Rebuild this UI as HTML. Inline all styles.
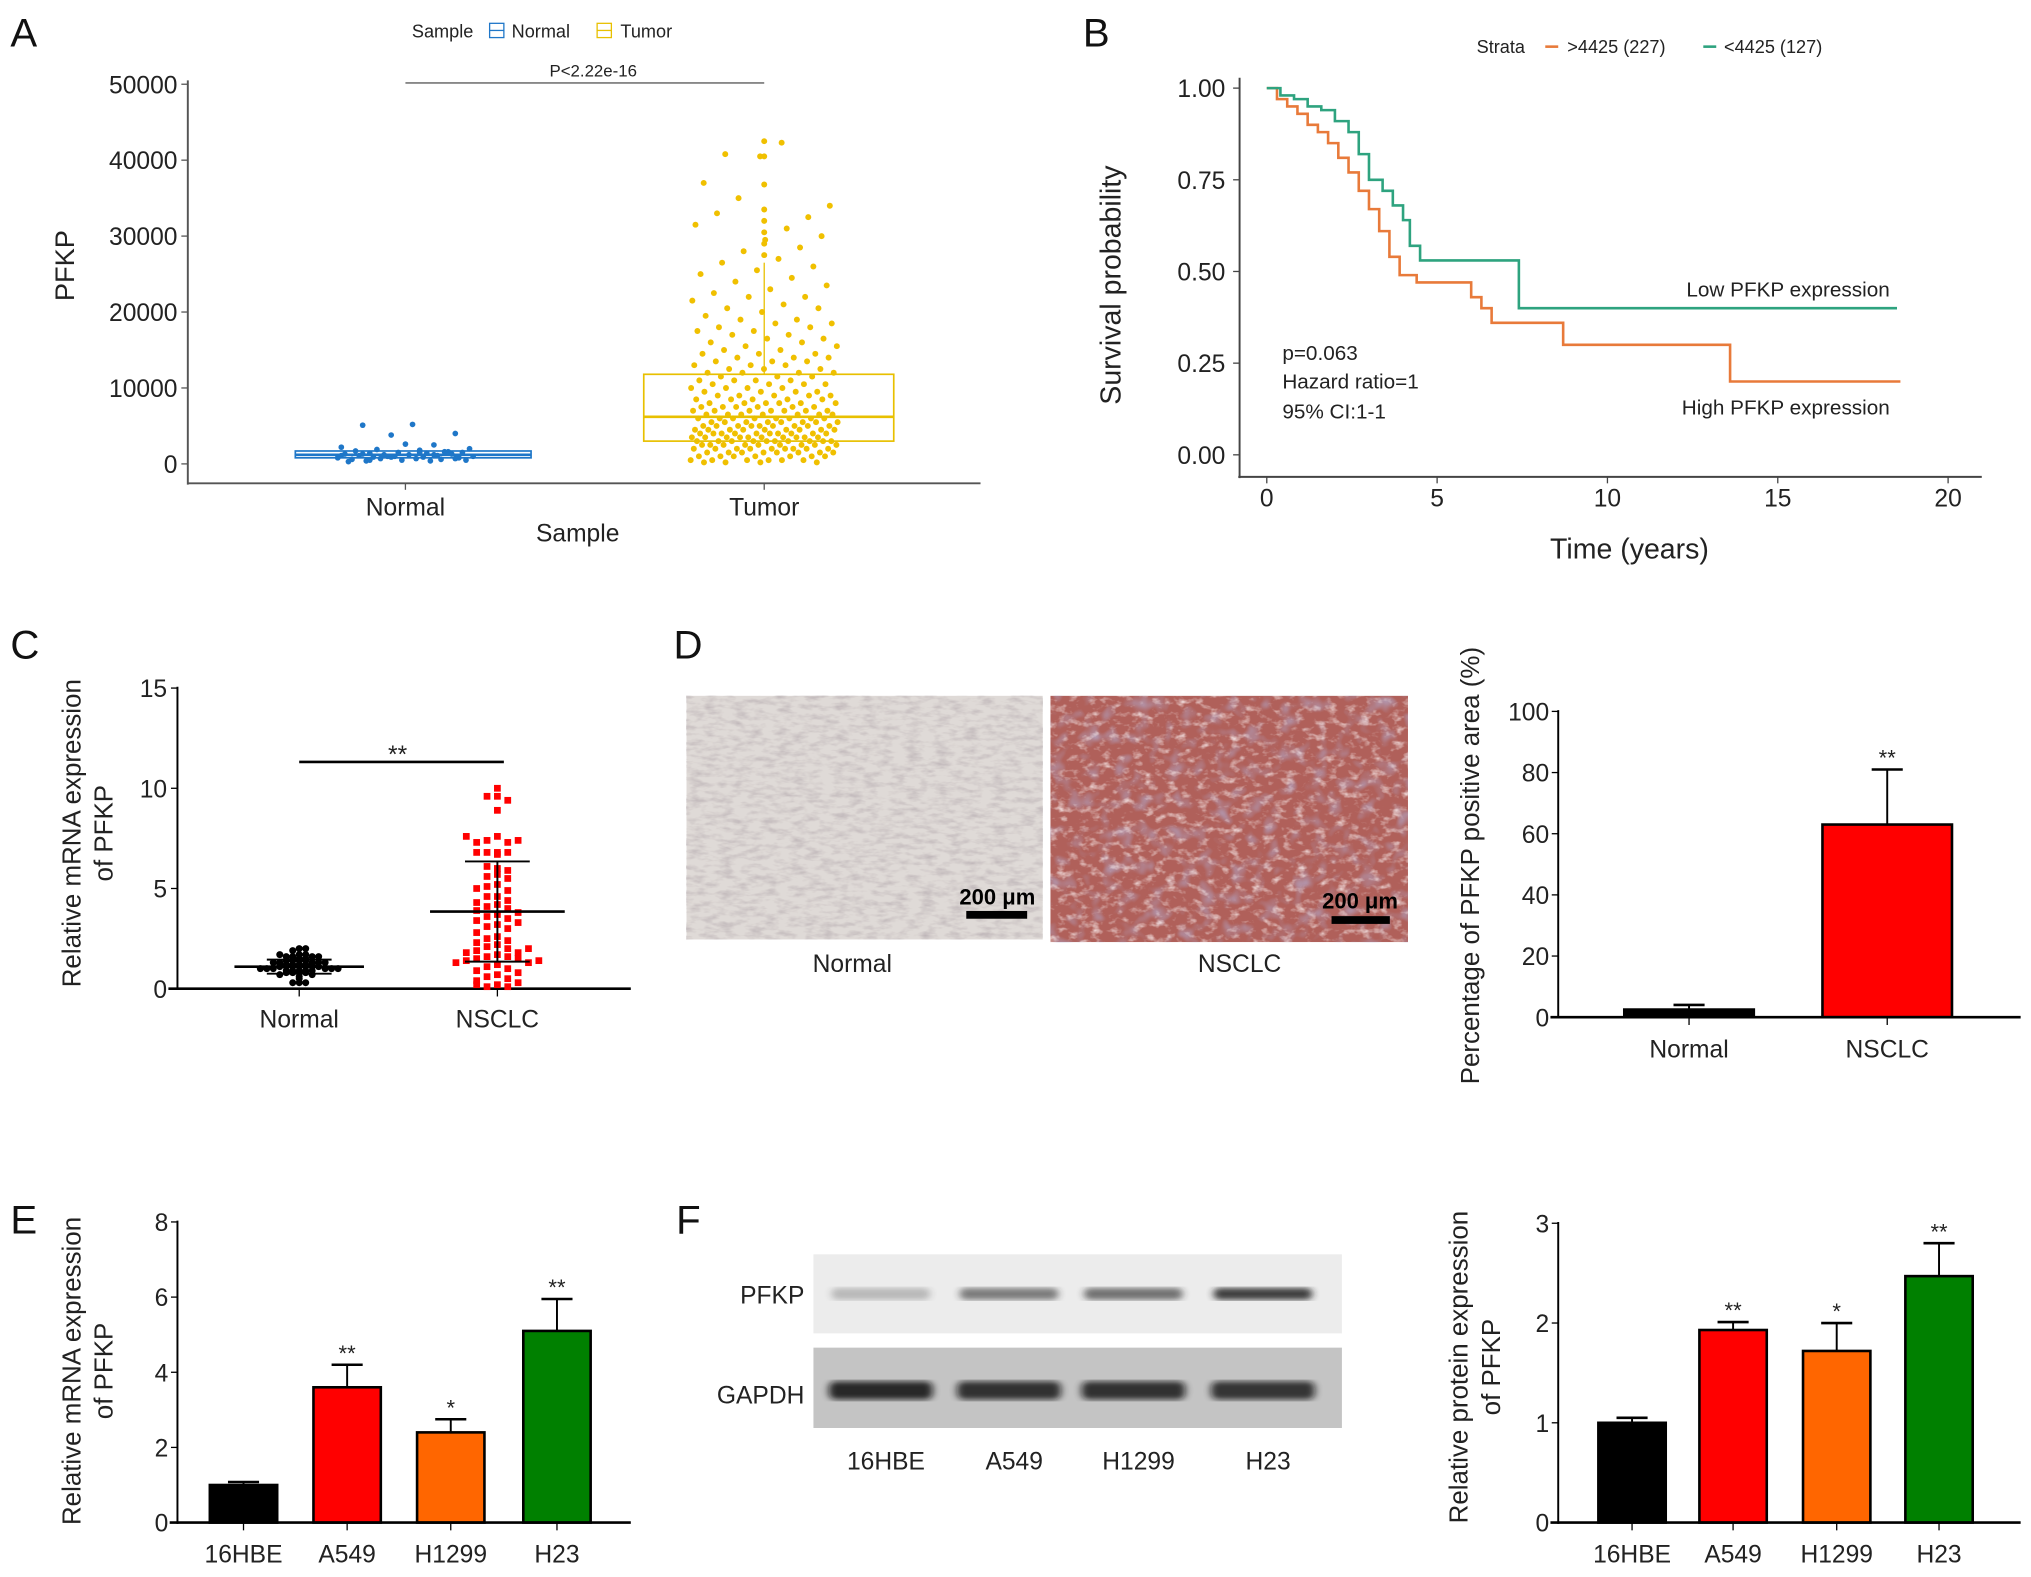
<!DOCTYPE html>
<html><head><meta charset="utf-8"><title>PFKP figure</title>
<style>
html,body{margin:0;padding:0;background:#fff;}
svg{display:block;font-family:"Liberation Sans",Arial,sans-serif;}
</style></head>
<body>
<svg id="fig" width="2031" height="1577" viewBox="0 0 1568 1217" preserveAspectRatio="none" xmlns="http://www.w3.org/2000/svg">
<defs>
<filter id="texN" x="0" y="0" width="100%" height="100%">
<feTurbulence type="fractalNoise" baseFrequency="0.09 0.25" numOctaves="3" seed="3" result="n"/>
<feColorMatrix in="n" type="matrix" values="0 0 0 0 0.55  0 0 0 0 0.5  0 0 0 0 0.52  1.8 0 0 0 -0.75"/>
</filter>
<filter id="texT" x="0" y="0" width="100%" height="100%">
<feTurbulence type="fractalNoise" baseFrequency="0.12 0.18" numOctaves="3" seed="7" result="n"/>
<feColorMatrix in="n" type="matrix" values="0 0 0 0 0.95  0 0 0 0 0.85  0 0 0 0 0.85  2.2 0 0 0 -1.15"/>
</filter>
<filter id="texB" x="0" y="0" width="100%" height="100%">
<feTurbulence type="fractalNoise" baseFrequency="0.08" numOctaves="2" seed="11" result="n"/>
<feColorMatrix in="n" type="matrix" values="0 0 0 0 0.45  0 0 0 0 0.45  0 0 0 0 0.7  1.6 0 0 0 -0.8"/>
</filter>
<filter id="blur1"><feGaussianBlur stdDeviation="3 2"/></filter>
</defs>
<g id="root"></g>
</svg>
<script>
// ---------- Panel A data ----------
const aCategories = ["Normal", "Tumor"];
const aYTicks = [0, 10000, 20000, 30000, 40000, 50000];
const aBoxNormal = [800, 1200, 1700];
const aBoxTumor = [3000, 6200, 11800];
const aWhiskerTumor = 26500;
const aNormalPts = [5200,5100,4000,3800,2500,2200,2000,1900,1800,1700,1600,1500,1500,1400,1400,1300,1300,1200,1200,1100,1100,1000,1000,900,900,800,800,700,700,600,600,500,500,400,400,300,1600,1000,2600,1300,1200,900,700,500,1500,1100];
const aTumorPts = [42500,42300,40800,40500,40500,37000,36800,35000,34000,33500,33000,32500,32000,31500,31000,30500,30000,29500,29000,28500,28000,27500,27000,26500,26000,25500,25000,24500,24000,23500,23000,22500,22000,22000,21500,21000,20500,20500,20000,19500,19000,19000,18500,18500,18000,18000,17500,17500,17000,17000,16500,16500,16000,16000,15500,15500,15000,15000,14500,14500,14500,14000,14000,14000,13500,13500,13500,13000,13000,13000,12500,12500,12500,12000,12000,12000,12000,11500,11500,11500,11000,11000,11000,11000,10500,10500,10500,10500,10000,10000,10000,10000,9500,9500,9500,9500,9000,9000,9000,9000,9000,8500,8500,8500,8500,8500,8000,8000,8000,8000,8000,8000,7500,7500,7500,7500,7500,7500,7000,7000,7000,7000,7000,7000,7000,6500,6500,6500,6500,6500,6500,6500,6000,6000,6000,6000,6000,6000,6000,6000,5500,5500,5500,5500,5500,5500,5500,5500,5000,5000,5000,5000,5000,5000,5000,5000,5000,4500,4500,4500,4500,4500,4500,4500,4500,4500,4000,4000,4000,4000,4000,4000,4000,4000,4000,4000,3500,3500,3500,3500,3500,3500,3500,3500,3500,3500,3000,3000,3000,3000,3000,3000,3000,3000,3000,3000,2500,2500,2500,2500,2500,2500,2500,2500,2500,2000,2000,2000,2000,2000,2000,2000,2000,2000,1500,1500,1500,1500,1500,1500,1500,1500,1000,1000,1000,1000,1000,1000,1000,500,500,500,500,500,500,200,200,200,200];

// ---------- Panel B data ----------
const bXTicks = [0, 5, 10, 15, 20];
const bYTicks = [0, 0.25, 0.5, 0.75, 1.0];
const bHighTimes = [0,0.3,0.6,0.9,1.2,1.5,1.8,2.1,2.4,2.7,3.0,3.3,3.6,3.9,4.4,6.0,6.3,6.6,8.7,13.6,18.6];
const bHighSurv  = [1.0,0.97,0.95,0.93,0.90,0.88,0.85,0.81,0.77,0.72,0.67,0.61,0.54,0.49,0.47,0.43,0.40,0.36,0.30,0.20,0.20];
const bLowTimes = [0,0.4,0.8,1.2,1.6,2.0,2.4,2.7,3.0,3.4,3.7,4.0,4.2,4.5,7.4,18.5];
const bLowSurv  = [1.0,0.98,0.97,0.95,0.94,0.91,0.88,0.82,0.75,0.72,0.68,0.64,0.57,0.53,0.40,0.40];

// ---------- Panel C data ----------
const cCategories = ["Normal", "NSCLC"];
const cYTicks = [0, 5, 10, 15];
const cNormalVals = [2.0,1.9,2.0,1.7,1.6,1.7,1.6,1.6,1.7,1.6,1.5,1.5,1.5,1.4,1.4,1.4,1.4,1.3,1.3,1.3,1.3,1.3,1.2,1.2,1.2,1.2,1.2,1.2,1.1,1.1,1.1,1.1,1.1,1.1,1.1,1.0,1.0,1.0,1.0,1.0,1.0,0.9,0.9,0.9,0.9,0.9,0.8,0.8,0.8,0.8,0.7,0.7,0.6,0.5,0.3,0.3,0.3];
const cNsclcVals = [10.0,9.6,9.6,9.4,8.9,7.6,7.4,7.3,7.3,7.4,7.6,6.8,6.8,6.7,6.8,6.8,6.0,6.1,5.9,5.7,5.6,5.5,5.2,5.1,4.9,4.6,4.6,4.4,4.2,4.1,4.0,3.9,3.8,3.7,3.6,3.5,3.4,3.2,3.1,3.0,2.8,2.6,2.5,2.4,2.3,2.2,2.1,2.0,1.9,1.8,1.7,1.6,1.6,1.5,1.5,1.4,1.3,1.2,1.1,1.0,0.9,0.8,0.7,0.6,0.5,0.4,0.3,0.2,0.1,0.1,0.2,1.3,1.4,1.8,2.0,3.3,4.3,5.0];
const cMeans = [1.1, 3.85];
const cSD = [0.35, 2.5];

// ---------- Panel D data ----------
const dCategories = ["Normal", "NSCLC"];
const dYTicks = [0, 20, 40, 60, 80, 100];
const dValues = [2.5, 63];
const dErrors = [1.5, 18];
const dStars = ["", "**"];

// ---------- Panel E data ----------
const eCategories = ["16HBE", "A549", "H1299", "H23"];
const eYTicks = [0, 2, 4, 6, 8];
const eValues = [1.0, 3.6, 2.4, 5.1];
const eErrors = [0.08, 0.6, 0.35, 0.85];
const eStars = ["", "**", "*", "**"];

// ---------- Panel F data ----------
const fCategories = ["16HBE", "A549", "H1299", "H23"];
const fYTicks = [0, 1, 2, 3];
const fValues = [1.0, 1.93, 1.72, 2.47];
const fErrors = [0.05, 0.08, 0.28, 0.33];
const fStars = ["", "**", "*", "**"];
const fPfkpBand = [0.25, 0.55, 0.6, 0.85];
const fGapdhBand = [0.85, 0.8, 0.8, 0.78];

const barColors = ["#000000", "#ff0000", "#ff6600", "#008000"];

const NS = "http://www.w3.org/2000/svg";
const root = document.getElementById("root");
function mk(tag, attrs, parent, text) {
  const e = document.createElementNS(NS, tag);
  for (const k in attrs) e.setAttribute(k, attrs[k]);
  if (text !== undefined) e.textContent = text;
  (parent || root).appendChild(e);
  return e;
}
function grp(name) {
  const g = mk("g", {});
  
  
  return g;
}
function lin(v0, v1, p0, p1) { return v => p0 + (v - v0) / (v1 - v0) * (p1 - p0); }
function txt(g, x, y, s, size, anchor, extra) {
  const a = Object.assign({x: x, y: y, "font-size": size, "text-anchor": anchor || "middle", fill: "#222"}, extra || {});
  return mk("text", a, g, s);
}

// panel letters
[["A",8,36],["B",836,36],["C",8,508],["D",520,508],["E",8,952],["F",522,952]].forEach(p => {
  const t = txt(root, p[1], p[2], p[0], 31, "start", {fill:"#111"});
  
  
});

// ================= Panel A =================
(function(){
  const g = grp("panel-a-boxplot");
  const y = lin(0, 50000, 358, 65);
  const xc = [313, 590];
  const gray = "#555";
  mk("line", {x1:145, y1:62, x2:145, y2:374, stroke:gray, "stroke-width":1.5}, g);
  mk("line", {x1:145, y1:373, x2:757, y2:373, stroke:gray, "stroke-width":1.5}, g);
  aYTicks.forEach(v => {
    mk("line", {x1:140, y1:y(v), x2:145, y2:y(v), stroke:gray}, g);
    const t = txt(g, 137, y(v)+7, String(v), 19, "end");
    
    
  });
  aCategories.forEach((c,i) => {
    mk("line", {x1:xc[i], y1:373, x2:xc[i], y2:378, stroke:gray}, g);
    const t = txt(g, xc[i], 398, c, 19);
    
    
  });
  const xt = txt(g, 446, 418, "Sample", 19);
  
  
  const yt = txt(g, 0, 0, "PFKP", 21, "middle", {transform:"translate(57,205) rotate(-90)"});
  
  
  const lg = grp("legend");
  txt(lg, 318, 29, "Sample", 14, "start");
  mk("rect", {x:378, y:18, width:11, height:11, fill:"none", stroke:"#1f77c8"}, lg);
  mk("line", {x1:378, y1:23.5, x2:389, y2:23.5, stroke:"#1f77c8"}, lg);
  txt(lg, 395, 29, "Normal", 14, "start");
  mk("rect", {x:461, y:18, width:11, height:11, fill:"none", stroke:"#e8c000"}, lg);
  mk("line", {x1:461, y1:23.5, x2:472, y2:23.5, stroke:"#e8c000"}, lg);
  txt(lg, 479, 29, "Tumor", 14, "start");
  mk("line", {x1:313, y1:64, x2:590, y2:64, stroke:"#888", "stroke-width":1.5}, g);
  txt(g, 458, 59, "P<2.22e-16", 13);
  mk("line", {x1:590, y1:y(aBoxTumor[2]), x2:590, y2:y(aWhiskerTumor), stroke:"#e8c000", "stroke-width":1}, g);
  const nJ = [0.1,-0.6,0.7,-0.2,0.4,-0.9,0.9,-0.4,0.2,-0.7,0.55,-0.1,0.8,-0.5,0.3,-0.85,0.65,-0.3,0.05,-0.65,0.45,-0.15,0.95,-0.45,0.25,-0.95,0.75,-0.35,0.15,-0.75,0.5,-0.05,0.85,-0.55,0.35,-0.8,0.6,-0.25,0.0,-0.6,0.4,-0.2,0.7,-0.5,0.2,-0.9];
  aNormalPts.forEach((v,i) => {
    const c = mk("circle", {cx: 313 + nJ[i % nJ.length]*55, cy: y(v), r: 2.2, fill:"#1f77c8"}, g);
    
    
  });
  aTumorPts.forEach((v,i) => {
    const j = ((i * 0.618034) % 1) * 2 - 1;
    const cx = v > 26000 && i % 3 === 0 ? 590 : 590 + j * 57;
    const c = mk("circle", {cx: cx, cy: y(v), r: 2.3, fill:"#f0c000"}, g);
    
    
  });
  [[aBoxNormal,"#1f77c8",228,410],[aBoxTumor,"#e8c000",497,690]].forEach((b,i) => {
    const r = mk("rect", {x:b[2], y:y(b[0][2]), width:b[3]-b[2], height:y(b[0][0])-y(b[0][2]), fill:"none", stroke:b[1], "stroke-width":1.3}, g);
    
    
    mk("line", {x1:b[2], y1:y(b[0][1]), x2:b[3], y2:y(b[0][1]), stroke:b[1], "stroke-width":2}, g);
  });
})();

// ================= Panel B =================
(function(){
  const g = grp("panel-b-survival");
  const x = lin(0, 20, 978, 1504);
  const y = lin(0, 1, 351, 68);
  const gray = "#444";
  mk("line", {x1:957, y1:60, x2:957, y2:369, stroke:gray, "stroke-width":1.5}, g);
  mk("line", {x1:956, y1:368, x2:1530, y2:368, stroke:gray, "stroke-width":1.5}, g);
  bYTicks.forEach(v => {
    mk("line", {x1:952, y1:y(v), x2:957, y2:y(v), stroke:gray}, g);
    const t = txt(g, 946, y(v)+7, v.toFixed(2), 19, "end");
    
    
  });
  bXTicks.forEach(v => {
    mk("line", {x1:x(v), y1:368, x2:x(v), y2:373, stroke:gray}, g);
    const t = txt(g, x(v), 391, String(v), 19);
    
    
  });
  const xt = txt(g, 1258, 431, "Time (years)", 22);
  
  
  const yt = txt(g, 0, 0, "Survival probability", 22, "middle", {transform:"translate(865,220) rotate(-90)"});
  
  
  function step(ts, ss, col, name) {
    let d = "M" + x(ts[0]) + "," + y(ss[0]);
    for (let i = 1; i < ts.length; i++) d += " H" + x(ts[i]) + " V" + y(ss[i]);
    const p = mk("path", {d: d, fill:"none", stroke:col, "stroke-width":2}, g);
    
    
  }
  step(bHighTimes, bHighSurv, "#e87a3a", "high-expression-curve");
  step(bLowTimes, bLowSurv, "#2ea37f", "low-expression-curve");
  txt(g, 990, 278, "p=0.063", 16, "start");
  txt(g, 990, 300, "Hazard ratio=1", 16, "start");
  txt(g, 990, 323, "95% CI:1-1", 16, "start");
  txt(g, 1459, 229, "Low PFKP expression", 16, "end");
  txt(g, 1459, 320, "High PFKP expression", 16, "end");
  const lg = grp("legend-strata");
  txt(lg, 1140, 41, "Strata", 14, "start");
  mk("line", {x1:1193, y1:36, x2:1203, y2:36, stroke:"#e87a3a", "stroke-width":2}, lg);
  txt(lg, 1210, 41, ">4425 (227)", 14, "start");
  mk("line", {x1:1315, y1:36, x2:1325, y2:36, stroke:"#2ea37f", "stroke-width":2}, lg);
  txt(lg, 1331, 41, "<4425 (127)", 14, "start");
})();

// ================= Panel C =================
(function(){
  const g = grp("panel-c-dotplot");
  const y = lin(0, 15, 763, 531);
  const xc = [231, 384];
  mk("line", {x1:137, y1:530, x2:137, y2:764, stroke:"#000", "stroke-width":1.5}, g);
  mk("line", {x1:130, y1:763, x2:487, y2:763, stroke:"#000", "stroke-width":2}, g);
  cYTicks.forEach(v => {
    mk("line", {x1:132, y1:y(v), x2:137, y2:y(v), stroke:"#000"}, g);
    const t = txt(g, 129, y(v)+7, String(v), 19, "end");
    
    
  });
  cCategories.forEach((c,i) => {
    mk("line", {x1:xc[i], y1:763, x2:xc[i], y2:769, stroke:"#000"}, g);
    const t = txt(g, xc[i], 793, c, 19);
    
    
  });
  const yt = txt(g, 0, 0, "Relative mRNA expression", 20, "middle", {transform:"translate(62,643) rotate(-90)"});
  
  
  txt(g, 0, 0, "of PFKP", 20, "middle", {transform:"translate(87,643) rotate(-90)"});
  mk("line", {x1:231, y1:588, x2:389, y2:588, stroke:"#000", "stroke-width":2}, g);
  txt(g, 307, 589, "**", 19);
  function swarm(vals, cx, col, shape, name, bin, sp) {
    const rows = {};
    vals.forEach(v => {
      const k = Math.round(v / bin);
      rows[k] = (rows[k] || 0) + 1;
      const n = rows[k] - 1;
      const off = (n % 2 === 0 ? 1 : -1) * Math.ceil(n / 2) * sp;
      let e;
      if (shape === "sq") e = mk("rect", {x: cx + off - 2.6, y: y(v) - 2.6, width:5.2, height:5.2, fill:col}, g);
      else e = mk("circle", {cx: cx + off, cy: y(v), r: 2.7, fill:col}, g);
      
      
    });
  }
  swarm(cNormalVals, xc[0], "#000", "c", "normal-point", 0.15, 5);
  swarm(cNsclcVals, xc[1], "#ff0000", "sq", "nsclc-point", 0.5, 8);
  const mw = [50, 52];
  cMeans.forEach((m,i) => {
    mk("line", {x1:xc[i]-mw[i], y1:y(m), x2:xc[i]+mw[i], y2:y(m), stroke:"#000", "stroke-width":2}, g);
    mk("line", {x1:xc[i], y1:y(m - cSD[i]), x2:xc[i], y2:y(m + cSD[i]), stroke:"#000", "stroke-width":1.5}, g);
    mk("line", {x1:xc[i]-25, y1:y(m + cSD[i]), x2:xc[i]+25, y2:y(m + cSD[i]), stroke:"#000", "stroke-width":1.5}, g);
    mk("line", {x1:xc[i]-25, y1:y(m - cSD[i]), x2:xc[i]+25, y2:y(m - cSD[i]), stroke:"#000", "stroke-width":1.5}, g);
  });
})();

// ================= Panel D images =================
(function(){
  const g = grp("panel-d-histology");
  const n = grp("normal-histology-image"); g.appendChild(n);
  mk("rect", {x:530, y:537, width:275, height:188, fill:"#ece8e4"}, n);
  mk("rect", {x:530, y:537, width:275, height:188, fill:"#fff", filter:"url(#texN)"}, n);
  mk("rect", {x:530, y:537, width:275, height:188, fill:"#a89a9a", opacity:"0.18"}, n);
  const t = grp("nsclc-histology-image"); g.appendChild(t);
  mk("rect", {x:811, y:537, width:276, height:190, fill:"#b0605a"}, t);
  mk("rect", {x:811, y:537, width:276, height:190, fill:"#fff", filter:"url(#texB)"}, t);
  mk("rect", {x:811, y:537, width:276, height:190, fill:"#fff", filter:"url(#texT)"}, t);
  txt(g, 770, 698, "200 μm", 17, "middle", {"font-weight":"bold", fill:"#000"});
  mk("rect", {x:746, y:703, width:47, height:6, fill:"#000"}, g);
  txt(g, 1050, 701, "200 μm", 17, "middle", {"font-weight":"bold", fill:"#000"});
  mk("rect", {x:1028, y:707, width:45, height:6, fill:"#000"}, g);
  txt(g, 658, 750, "Normal", 19);
  txt(g, 957, 750, "NSCLC", 19);
})();

// ================= generic bar chart =================
function barChart(name, cfg) {
  const g = grp(name);
  const y = lin(0, cfg.ymax, cfg.y0, cfg.ytop);
  mk("line", {x1:cfg.ax, y1:cfg.ytop-1, x2:cfg.ax, y2:cfg.y0+1, stroke:"#000", "stroke-width":1.5}, g);
  cfg.ticks.forEach(v => {
    mk("line", {x1:cfg.ax-5, y1:y(v), x2:cfg.ax, y2:y(v), stroke:"#000"}, g);
    const t = txt(g, cfg.ax-7, y(v)+7, String(v), 19, "end");
    
    
  });
  cfg.vals.forEach((v,i) => {
    const cx = cfg.xs[i];
    const top = y(v + cfg.errs[i]);
    mk("line", {x1:cx, y1:y(v), x2:cx, y2:top, stroke:"#000", "stroke-width":1.5}, g);
    mk("line", {x1:cx-12, y1:top, x2:cx+12, y2:top, stroke:"#000", "stroke-width":2}, g);
    const r = mk("rect", {x:cx-cfg.bw/2, y:y(v), width:cfg.bw, height:cfg.y0-y(v), fill:cfg.colors[i], stroke:"#000", "stroke-width":2}, g);
    
    
    if (cfg.stars[i]) txt(g, cx, top - 3, cfg.stars[i], 17);
    mk("line", {x1:cx, y1:cfg.y0, x2:cx, y2:cfg.y0+6, stroke:"#000"}, g);
    const t = txt(g, cx, cfg.y0+31, cfg.cats[i], 19);
    
    
  });
  mk("line", {x1:cfg.ax-6, y1:cfg.y0, x2:cfg.axEnd, y2:cfg.y0, stroke:"#000", "stroke-width":2}, g);
  cfg.title.forEach((s,k) => {
    const t = txt(g, 0, 0, s, 20, "middle", {transform:"translate(" + (cfg.tx + k*25) + "," + cfg.ty + ") rotate(-90)"});
    
    
  });
}
barChart("panel-d-barchart", {ymax:100, y0:785, ytop:549, ax:1203, axEnd:1560, ticks:dYTicks, vals:dValues, errs:dErrors, stars:dStars, cats:dCategories, xs:[1304,1457], bw:100, colors:["#000","#ff0000"], title:["Percentage of PFKP positive area (%)"], tx:1142, ty:668});
barChart("panel-e-barchart", {ymax:8, y0:1175, ytop:943, ax:137, axEnd:487, ticks:eYTicks, vals:eValues, errs:eErrors, stars:eStars, cats:eCategories, xs:[188,268,348,430], bw:52, colors:barColors, title:["Relative mRNA expression","of PFKP"], tx:62, ty:1058});
barChart("panel-f-barchart", {ymax:3, y0:1175, ytop:944, ax:1203, axEnd:1560, ticks:fYTicks, vals:fValues, errs:fErrors, stars:fStars, cats:fCategories, xs:[1260,1338,1418,1497], bw:52, colors:barColors, title:["Relative protein expression","of PFKP"], tx:1133, ty:1055});

// ================= Panel F western blot =================
(function(){
  const g = grp("panel-f-western-blot");
  mk("rect", {x:628, y:968, width:408, height:61, fill:"#ececec"}, g);
  mk("rect", {x:628, y:1040, width:408, height:62, fill:"#c4c4c4"}, g);
  const lanes = [680, 779, 875, 975];
  lanes.forEach((lx,i) => {
    const b1 = mk("rect", {x:lx-38, y:994, width:76, height:9, rx:4, fill:"#222", opacity:fPfkpBand[i], filter:"url(#blur1)"}, g);
    
    
    const b2 = mk("rect", {x:lx-40, y:1066, width:80, height:14, rx:5, fill:"#111", opacity:fGapdhBand[i], filter:"url(#blur1)"}, g);
    
    
    txt(g, lx+4, 1134, fCategories[i], 19);
  });
  txt(g, 621, 1006, "PFKP", 19, "end");
  txt(g, 621, 1083, "GAPDH", 19, "end");
})();
</script>
</body></html>
